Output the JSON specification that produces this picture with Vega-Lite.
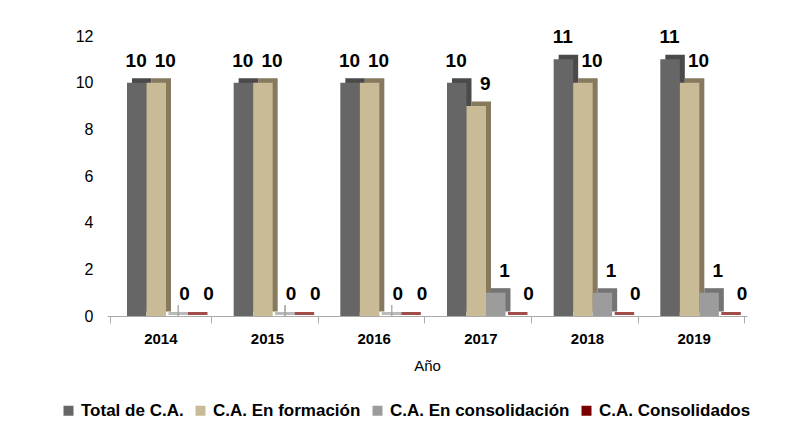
{
  "$schema": "https://vega.github.io/schema/vega-lite/v6.json",
  "width": 640,
  "height": 280,
  "padding": {"left": 60, "top": 28, "right": 20, "bottom": 5},
  "background": "white",
  "config": {
    "font": "Liberation Sans",
    "view": {"stroke": null}
  },
  "data": {
    "values": [
      {"year": "2014", "series": "Total de C.A.", "value": 10},
      {"year": "2014", "series": "C.A. En formación", "value": 10},
      {"year": "2014", "series": "C.A. En consolidación", "value": 0},
      {"year": "2014", "series": "C.A. Consolidados", "value": 0},
      {"year": "2015", "series": "Total de C.A.", "value": 10},
      {"year": "2015", "series": "C.A. En formación", "value": 10},
      {"year": "2015", "series": "C.A. En consolidación", "value": 0},
      {"year": "2015", "series": "C.A. Consolidados", "value": 0},
      {"year": "2016", "series": "Total de C.A.", "value": 10},
      {"year": "2016", "series": "C.A. En formación", "value": 10},
      {"year": "2016", "series": "C.A. En consolidación", "value": 0},
      {"year": "2016", "series": "C.A. Consolidados", "value": 0},
      {"year": "2017", "series": "Total de C.A.", "value": 10},
      {"year": "2017", "series": "C.A. En formación", "value": 9},
      {"year": "2017", "series": "C.A. En consolidación", "value": 1},
      {"year": "2017", "series": "C.A. Consolidados", "value": 0},
      {"year": "2018", "series": "Total de C.A.", "value": 11},
      {"year": "2018", "series": "C.A. En formación", "value": 10},
      {"year": "2018", "series": "C.A. En consolidación", "value": 1},
      {"year": "2018", "series": "C.A. Consolidados", "value": 0},
      {"year": "2019", "series": "Total de C.A.", "value": 11},
      {"year": "2019", "series": "C.A. En formación", "value": 10},
      {"year": "2019", "series": "C.A. En consolidación", "value": 1},
      {"year": "2019", "series": "C.A. Consolidados", "value": 0}
    ]
  },
  "encoding": {
    "x": {
      "field": "year", "type": "nominal",
      "scale": {"paddingInner": 0.05, "paddingOuter": 0.025},
      "axis": {
        "title": "Año", "titleFontSize": 15, "titleFontWeight": "normal", "titlePadding": 12,
        "labelAngle": 0, "labelFontSize": 15, "labelFontWeight": "bold", "labelColor": "#000",
        "domainColor": "#aaaaaa", "tickColor": "#aaaaaa", "tickSize": 7, "tickBand": "extent", "labelPadding": 8
      }
    },
    "y": {
      "field": "value", "type": "quantitative",
      "scale": {"domain": [0, 12]},
      "axis": {
        "title": null, "values": [0, 2, 4, 6, 8, 10, 12], "grid": false, "domain": false, "ticks": false,
        "labelFontSize": 16, "labelColor": "#000", "labelPadding": 14
      }
    }
  },
  "layer": [
    {
      "mark": {"type": "rule", "yOffset": -11, "xOffset": 18, "color": "#b0b0b0", "strokeWidth": 1},
      "encoding": {"y": {"datum": 0}}
    },
    {
      "mark": {"type": "bar", "yOffset": -4.5},
      "encoding": {
        "xOffset": {
          "field": "series", "type": "nominal",
          "scale": {"domain": ["Total de C.A.", "C.A. En formación", "C.A. En consolidación", "C.A. Consolidados"],
                    "paddingInner": 0, "paddingOuter": 0.598, "align": 0.957}
        },
        "color": {
          "field": "series", "type": "nominal", "legend": null,
          "scale": {"domain": ["Total de C.A.", "C.A. En formación", "C.A. En consolidación", "C.A. Consolidados"],
                    "range": ["#4a4a4a", "#85795e", "#747474", "#4a0000"]}
        }
      }
    },
    {
      "transform": [{"filter": "datum.value == 0"}],
      "mark": {"type": "tick", "orient": "horizontal", "thickness": 3, "yOffset": -2.5},
      "encoding": {
        "xOffset": {
          "field": "series", "type": "nominal",
          "scale": {"domain": ["Total de C.A.", "C.A. En formación", "C.A. En consolidación", "C.A. Consolidados"],
                    "paddingInner": 0, "paddingOuter": 0.598, "align": 0.85}
        },
        "color": {
          "field": "series", "type": "nominal", "legend": null,
          "scale": {"domain": ["Total de C.A.", "C.A. En formación", "C.A. En consolidación", "C.A. Consolidados"],
                    "range": ["#666666", "#c9bb95", "#9c9c9c", "#7a0000"]}
        }
      }
    },
    {
      "mark": {"type": "bar"},
      "encoding": {
        "xOffset": {
          "field": "series", "type": "nominal",
          "scale": {"domain": ["Total de C.A.", "C.A. En formación", "C.A. En consolidación", "C.A. Consolidados"],
                    "paddingInner": 0, "paddingOuter": 0.598, "align": 0.743}
        },
        "color": {
          "field": "series", "type": "nominal",
          "scale": {"domain": ["Total de C.A.", "C.A. En formación", "C.A. En consolidación", "C.A. Consolidados"],
                    "range": ["#666666", "#c9bb95", "#9c9c9c", "#7a0000"]},
          "legend": {
            "title": null, "orient": "none", "legendX": -47, "legendY": 366,
            "direction": "horizontal", "symbolType": "square",
            "symbolSize": 100, "labelFontSize": 17, "labelFontWeight": "bold", "labelColor": "#000",
            "labelLimit": 300, "columnPadding": 8, "labelOffset": 4
          }
        }
      }
    },
    {
      "transform": [{"filter": "datum.series != 'C.A. En formación'"}],
      "mark": {"type": "text", "baseline": "alphabetic", "dy": -16, "dx": 5, "fontSize": 19, "fontWeight": "bold", "color": "#000"},
      "encoding": {
        "xOffset": {
          "field": "series", "type": "nominal",
          "scale": {"domain": ["Total de C.A.", "C.A. En formación", "C.A. En consolidación", "C.A. Consolidados"],
                    "paddingInner": 0, "paddingOuter": 0.598, "align": 0.743}
        },
        "text": {"field": "value", "type": "quantitative"}
      }
    },
    {
      "transform": [{"filter": "datum.series == 'C.A. En formación'"}],
      "mark": {"type": "text", "baseline": "alphabetic", "dy": -16, "dx": 10, "fontSize": 19, "fontWeight": "bold", "color": "#000"},
      "encoding": {
        "xOffset": {
          "field": "series", "type": "nominal",
          "scale": {"domain": ["Total de C.A.", "C.A. En formación", "C.A. En consolidación", "C.A. Consolidados"],
                    "paddingInner": 0, "paddingOuter": 0.598, "align": 0.743}
        },
        "text": {"field": "value", "type": "quantitative"}
      }
    }
  ],
  "resolve": {"scale": {"color": "independent", "xOffset": "independent"}}
}
